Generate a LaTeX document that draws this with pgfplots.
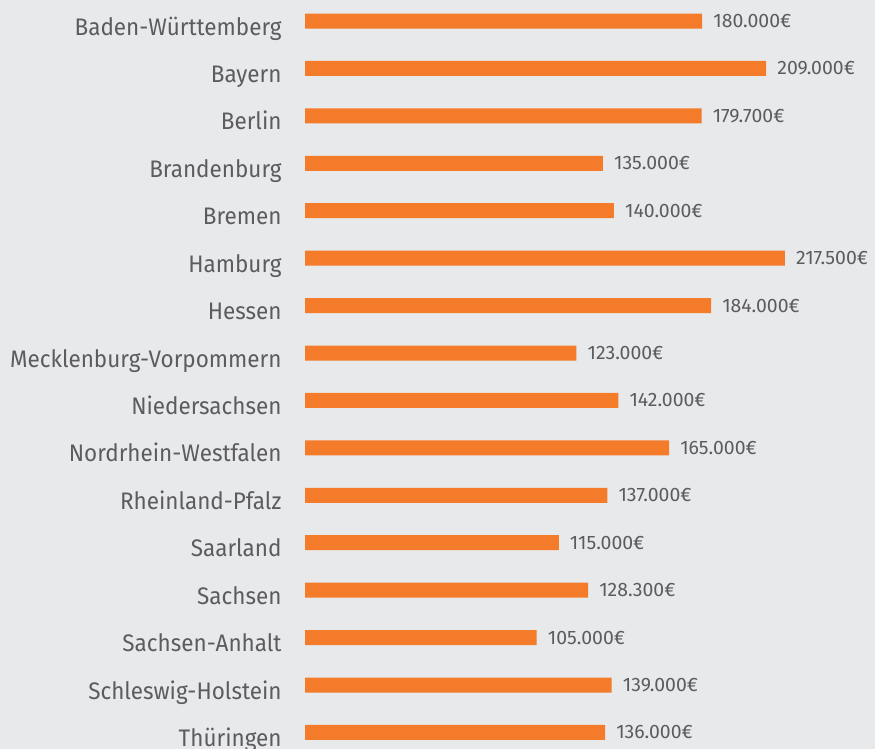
\documentclass[border=0pt]{standalone}
\usepackage{pgfplots}
\pgfplotsset{compat=1.18}
\usepackage{fontspec}
\setmainfont{Fira Sans}[FakeStretch=0.94]
\newfontfamily\valfont{Fira Sans}
\definecolor{bg}{RGB}{232,233,235}
\definecolor{barc}{RGB}{244,123,42}
\definecolor{txt}{RGB}{92,92,94}
\begin{document}
\begin{tikzpicture}[x=1bp,y=1bp]
\useasboundingbox (0,0) rectangle (875,749);
\fill[bg] (0,0) rectangle (875,749);
\begin{axis}[
  at={(305bp,0bp)}, anchor=south west,
  scale only axis, width=570bp, height=749bp,
  xmin=0, xmax=258.3,
  ymin=-0.443, ymax=15.349, y dir=reverse,
  xbar, bar width=15bp,
  axis line style={draw=none},
  tick style={draw=none},
  xtick=\empty,
  ytick={0,...,15},
  yticklabels={Baden-Württemberg,Bayern,Berlin,Brandenburg,Bremen,Hamburg,Hessen,Mecklenburg-Vorpommern,Niedersachsen,Nordrhein-Westfalen,Rheinland-Pfalz,Saarland,Sachsen,Sachsen-Anhalt,Schleswig-Holstein,Thüringen},
  yticklabel style={anchor=base east, inner sep=0pt, xshift=-19bp, yshift=-14bp,
    font=\fontsize{24}{24}\selectfont, text=txt},
  point meta=explicit symbolic,
  nodes near coords,
  nodes near coords style={anchor=west, inner sep=0pt, xshift=11bp,
    font=\valfont\fontsize{19.5}{19.5}\selectfont, text=txt},
  clip=false,
]
\addplot[fill=barc, draw=none] coordinates {
  (180.0,0) [180.000€]
  (209.0,1) [209.000€]
  (179.7,2) [179.700€]
  (135.0,3) [135.000€]
  (140.0,4) [140.000€]
  (217.5,5) [217.500€]
  (184.0,6) [184.000€]
  (123.0,7) [123.000€]
  (142.0,8) [142.000€]
  (165.0,9) [165.000€]
  (137.0,10) [137.000€]
  (115.0,11) [115.000€]
  (128.3,12) [128.300€]
  (105.0,13) [105.000€]
  (139.0,14) [139.000€]
  (136.0,15) [136.000€]
};
\end{axis}
\end{tikzpicture}
\end{document}
